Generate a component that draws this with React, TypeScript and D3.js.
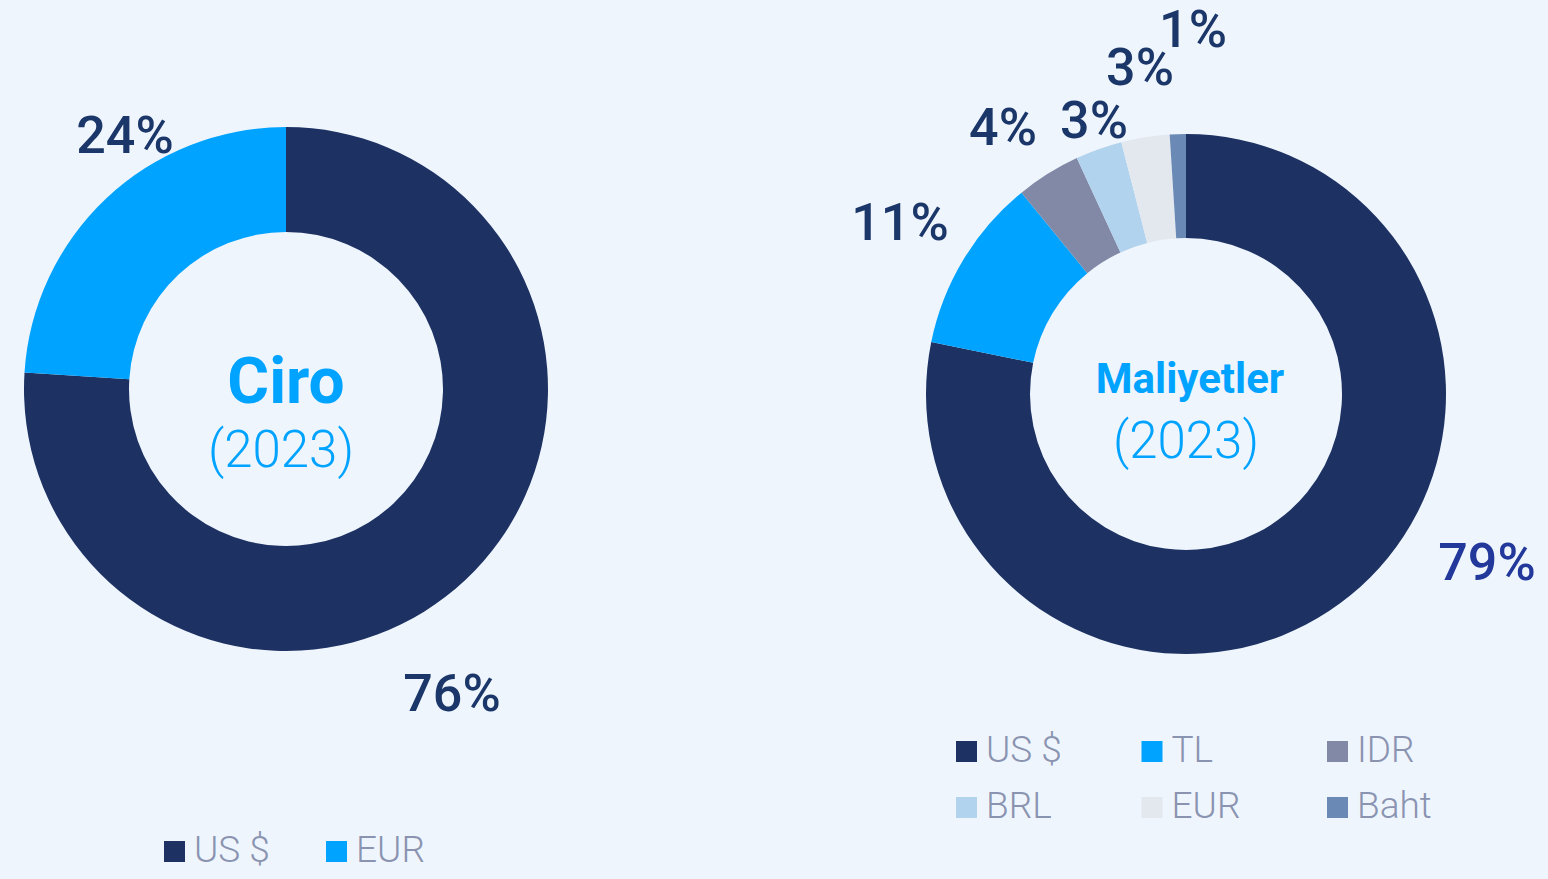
import React from "react";
import * as d3 from "d3";

// ---- Data ----
const ciroCategories = ["US $", "EUR"];
const ciroShares = [76, 24];
const ciroLabels = ["76%", "24%"];

const maliyetCategories = ["US $", "TL", "IDR", "BRL", "EUR", "Baht"];
const maliyetShares = [78.2, 10.9, 4.0, 2.9, 3.0, 1.0];
const maliyetLabels = ["79%", "11%", "4%", "3%", "3%", "1%"];

// ---- Styles ----
const W = 1548;
const H = 879;
const BG = "#EFF5FD";
const ciroColors = ["#1D3263", "#00A3FF"];
const maliyetColors = ["#1D3263", "#00A3FF", "#8189A6", "#B2D3EE", "#E3E8EF", "#6A8AB5"];
const FONT = "Roboto, 'Noto Sans', sans-serif";

// label offsets (from donut centre) for each slice label
const ciroLabelOffsets: [number, number][] = [[166, 322], [-161, -236]];
const maliyetLabelOffsets: [number, number][] = [
  [301, 186], [-286, -154], [-183, -249], [-92, -256], [-46, -309], [7, -347],
];
const maliyetLabelColors = ["#22389A", "#1B3668", "#1B3668", "#1B3668", "#1B3668", "#1B3668"];

type DonutProps = {
  cx: number; cy: number; rOuter: number; rInner: number;
  values: number[]; colors: string[]; labels: string[];
  labelOffsets: [number, number][]; labelColors: string[];
  title: string; titleSize: number; titleY: number; yearSize: number; yearY: number;
  titleX?: number; yearX?: number;
};

function Donut(p: DonutProps) {
  const pie = d3.pie<number>().sort(null).value((d) => d);
  const arcs = pie(p.values);
  const arc = d3.arc<d3.PieArcDatum<number>>().innerRadius(p.rInner).outerRadius(p.rOuter);
  return (
    <g transform={`translate(${p.cx},${p.cy})`}>
      {arcs.map((a, i) => (
        <path key={i} d={arc(a) || ""} fill={p.colors[i]} />
      ))}
      {arcs.map((a, i) => (
        <text key={"l" + i} x={p.labelOffsets[i][0]} y={p.labelOffsets[i][1]} textAnchor="middle"
          fontFamily={FONT} fontWeight={500} fontSize={52} fill={p.labelColors[i]}>
          {p.labels[i]}
        </text>
      ))}
      <text x={p.titleX ?? 0} y={p.titleY} textAnchor="middle" fontFamily={FONT} fontWeight={700}
        fontSize={p.titleSize} fill="#00A3FF">{p.title}</text>
      <text x={p.yearX ?? 0} y={p.yearY} textAnchor="middle" fontFamily={FONT} fontWeight={300}
        fontSize={p.yearSize} fill="#00A3FF">(2023)</text>
    </g>
  );
}

function Legend({ x, y, items, colors, colStep, rowStep, cols }: {
  x: number; y: number; items: string[]; colors: string[]; colStep: number; rowStep: number; cols: number;
}) {
  return (
    <g transform={`translate(${x},${y})`}>
      {items.map((t, i) => {
        const c = i % cols;
        const r = Math.floor(i / cols);
        const gx = c * colStep;
        const gy = r * rowStep;
        return (
          <g key={i} transform={`translate(${gx},${gy})`}>
            <rect x={0} y={0} width={21} height={21} fill={colors[i]} />
            <text x={30} y={21} fontFamily={FONT} fontWeight={300} fontSize={37} fill="#8A93B0">{t}</text>
          </g>
        );
      })}
    </g>
  );
}

export default function App() {
  return (
    <svg width={W} height={H} style={{ position: "absolute", left: 0, top: 0 }}>
      <rect x={0} y={0} width={W} height={H} fill={BG} />
      <Donut cx={286} cy={389} rOuter={262} rInner={157} values={ciroShares} colors={ciroColors}
        labels={ciroLabels} labelOffsets={ciroLabelOffsets} labelColors={["#1B3668", "#1B3668"]}
        title="Ciro" titleSize={64} titleY={14} yearSize={51} yearY={78} yearX={-5} />
      <Donut cx={1186} cy={394} rOuter={260} rInner={156} values={maliyetShares} colors={maliyetColors}
        labels={maliyetLabels} labelOffsets={maliyetLabelOffsets} labelColors={maliyetLabelColors}
        title="Maliyetler" titleSize={42} titleY={-1} yearSize={51} yearY={64} titleX={4} />
      <Legend x={164} y={841} items={ciroCategories} colors={ciroColors} colStep={162} rowStep={0} cols={2} />
      <Legend x={956} y={741} items={maliyetCategories} colors={maliyetColors} colStep={185.5} rowStep={56} cols={3} />
    </svg>
  );
}
